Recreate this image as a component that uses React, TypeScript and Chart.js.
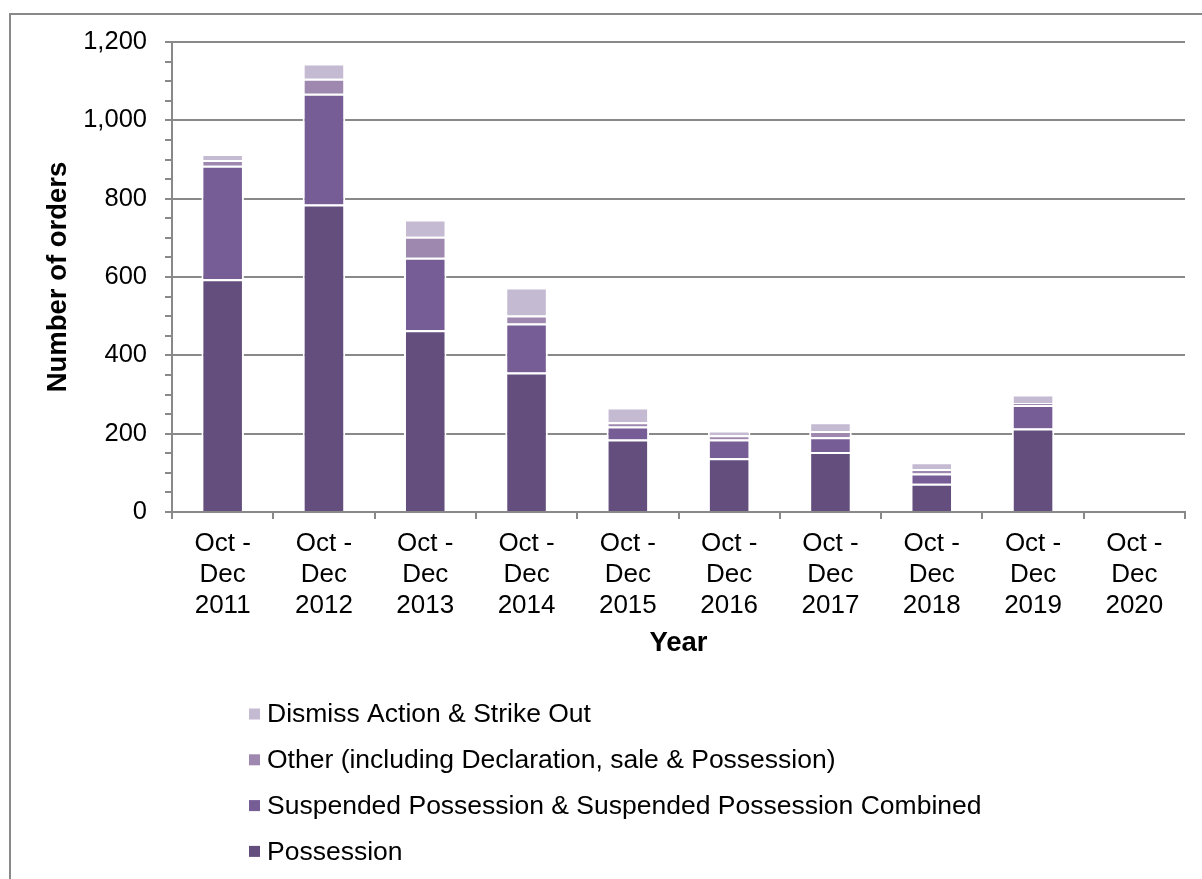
import React, { useEffect, useRef } from "react";
import { Chart, registerables } from "chart.js";

Chart.register(...registerables);

// ---- Data ----
const categories: string[][] = [
  ["Oct -", "Dec", "2011"],
  ["Oct -", "Dec", "2012"],
  ["Oct -", "Dec", "2013"],
  ["Oct -", "Dec", "2014"],
  ["Oct -", "Dec", "2015"],
  ["Oct -", "Dec", "2016"],
  ["Oct -", "Dec", "2017"],
  ["Oct -", "Dec", "2018"],
  ["Oct -", "Dec", "2019"],
  ["Oct -", "Dec", "2020"],
];

const possession = [594, 785, 464, 356, 185, 137, 153, 72, 213, 0];
const suspended = [290, 283, 185, 125, 33, 48, 38, 26, 60, 0];
const other = [15, 38, 54, 21, 11, 11, 16, 12, 5, 0];
const dismiss = [15, 39, 44, 71, 38, 12, 22, 17, 22, 0];

const seriesNames = [
  "Possession",
  "Suspended Possession & Suspended Possession Combined",
  "Other (including Declaration, sale & Possession)",
  "Dismiss Action & Strike Out",
];
const seriesColors = ["#634e7e", "#775d96", "#9e88b0", "#c4bad2"];

const yMin = 0;
const yMax = 1200;
const yMinorStep = 50;
const yMajorStep = 200;

const FONT = "'Liberation Sans', Arial, Helvetica, sans-serif";
const GRAY = "#898989";

export default function App() {
  const ref = useRef<HTMLCanvasElement | null>(null);

  useEffect(() => {
    const canvas = ref.current;
    if (!canvas) return;

    const framePlugin = {
      id: "frame",
      beforeDraw(chart: any) {
        const ctx = chart.ctx;
        ctx.save();
        ctx.strokeStyle = GRAY;
        ctx.lineWidth = 2;
        ctx.strokeRect(10, 14, 1400, 1200);
        ctx.restore();
      },
    };

    const legendPlugin = {
      id: "verticalLegend",
      afterDraw(chart: any) {
        const ctx = chart.ctx;
        const order = [3, 2, 1, 0];
        ctx.save();
        ctx.font = `26.5px ${FONT}`;
        ctx.textBaseline = "middle";
        ctx.textAlign = "left";
        order.forEach((di, row) => {
          const ds = chart.data.datasets[di];
          const cy = 714 + row * 45.8;
          ctx.fillStyle = ds.backgroundColor;
          ctx.fillRect(249, cy - 5.5, 11, 11);
          ctx.fillStyle = "#000";
          ctx.fillText(ds.label, 267, cy + 1);
        });
        ctx.restore();
      },
    };

    const seriesData = [possession, suspended, other, dismiss];

    const chart = new Chart(canvas, {
      type: "bar",
      data: {
        labels: categories,
        datasets: seriesData.map((d, i) => ({
          label: seriesNames[i],
          data: d,
          backgroundColor: seriesColors[i],
          borderColor: "#ffffff",
          borderWidth: { top: 2, left: 2, right: 2, bottom: 0 },
          borderSkipped: false,
          barPercentage: 0.42,
          categoryPercentage: 1,
        })),
      },
      options: {
        animation: false,
        responsive: false,
        maintainAspectRatio: false,
        layout: { padding: { top: 42, right: 17, bottom: 217, left: 0 } },
        plugins: {
          legend: { display: false },
          tooltip: { enabled: false },
          title: { display: false },
        },
        scales: {
          x: {
            stacked: true,
            grid: {
              display: true,
              drawOnChartArea: false,
              drawTicks: true,
              tickLength: 7,
              tickColor: GRAY,
              lineWidth: 2,
              offset: true,
            },
            border: { display: true, color: GRAY, width: 2 },
            ticks: {
              color: "#000",
              font: { family: FONT, size: 26 },
              padding: 9,
              maxRotation: 0,
              autoSkip: false,
            },
            title: {
              display: true,
              text: "Year",
              color: "#000",
              font: { family: FONT, size: 27.5, weight: "bold" },
              padding: { top: 0, bottom: 2 },
            },
            afterFit: (s: any) => {
              s.height = 150;
            },
          },
          y: {
            stacked: true,
            min: yMin,
            max: yMax,
            ticks: {
              stepSize: yMinorStep,
              autoSkip: false,
              maxTicksLimit: 100,
              color: "#000",
              font: { family: FONT, size: 25.5 },
              padding: 18,
              callback: (v: any) =>
                Number(v) % yMajorStep === 0 ? Number(v).toLocaleString("en-US") : "",
            },
            grid: {
              color: (c: any) =>
                c.tick && c.tick.value % yMajorStep === 0 ? GRAY : "rgba(0,0,0,0)",
              lineWidth: 2,
              drawTicks: true,
              tickLength: 7,
              tickColor: GRAY,
              tickWidth: 2,
            },
            border: { display: true, color: GRAY, width: 2 },
            title: {
              display: true,
              text: "Number of orders",
              color: "#000",
              font: { family: FONT, size: 27.5, weight: "bold" },
              padding: { top: 42, bottom: 0 },
            },
            afterFit: (s: any) => {
              s.width = 172;
            },
          },
        },
      } as any,
      plugins: [framePlugin, legendPlugin],
    });

    return () => {
      chart.destroy();
    };
  }, []);

  return (
    <div
      style={{
        position: "fixed",
        left: 0,
        top: 0,
        width: 1202,
        height: 879,
        background: "#fff",
        overflow: "hidden",
      }}
    >
      <canvas ref={ref} width={1202} height={879} style={{ display: "block" }} />
    </div>
  );
}
